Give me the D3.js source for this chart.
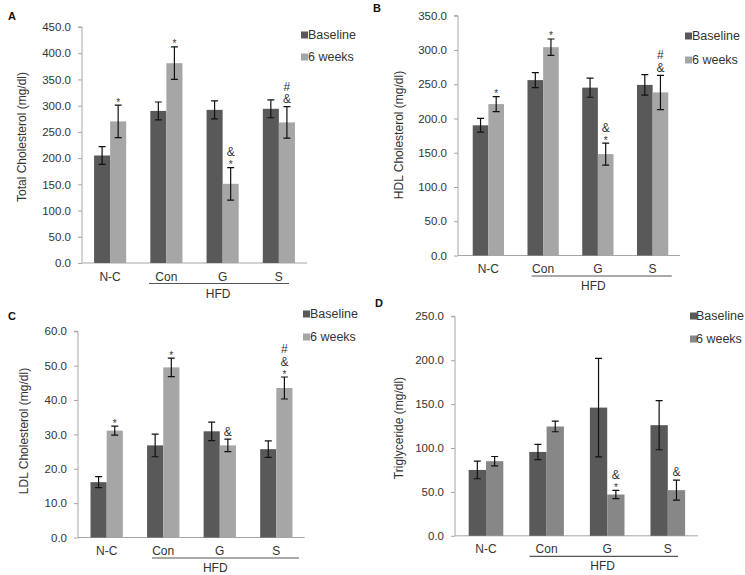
<!DOCTYPE html>
<html><head><meta charset="utf-8">
<script src="https://cdn.jsdelivr.net/npm/d3@7"></script>
<style>body{margin:0;background:#fff}svg{display:block;font-family:"Liberation Sans",Arial,sans-serif}</style>
</head><body><svg id="c" width="745" height="575"></svg>
<script>
const categories = ["N-C","Con","G","S"];
const seriesNames = ["Baseline","6 weeks"];

const tcBaseline = [205,290,292,294];
const tcBaselineErr = [17,17,17,17];
const tcWeek6 = [270,381,151,268];
const tcWeek6Err = [31,31,31,30];
const tcMarks = [["*"],["*"],["*","&"],["&","#"]];
const tcTicks = [0,50,100,150,200,250,300,350,400,450];

const hdlBaseline = [190,256,245,249];
const hdlBaselineErr = [10,11,14,15];
const hdlWeek6 = [221,304,148,238];
const hdlWeek6Err = [11,12,16,25];
const hdlMarks = [["*"],["*"],["*","&"],["&","#"]];
const hdlTicks = [0,50,100,150,200,250,300,350];

const ldlBaseline = [16.1,26.8,30.9,25.7];
const ldlBaselineErr = [1.6,3.3,2.7,2.4];
const ldlWeek6 = [31.1,49.5,26.8,43.5];
const ldlWeek6Err = [1.3,2.7,1.8,3.2];
const ldlMarks = [["*"],["*"],["&"],["*","&","#"]];
const ldlTicks = [0,10,20,30,40,50,60];

const tgBaseline = [75,95.5,146,126];
const tgBaselineErr = [10,8.7,56,28];
const tgWeek6 = [85,124.5,47,52];
const tgWeek6Err = [5.3,6,4.7,11.4];
const tgMarks = [[],[],["*","&"],["&"]];
const tgTicks = [0,50,100,150,200,250];

const panels = [
  {letter:"A", title:"Total Cholesterol (mg/dl)", base:tcBaseline, baseErr:tcBaselineErr, w6:tcWeek6, w6Err:tcWeek6Err, marks:tcMarks, ticks:tcTicks,
   axisX:82, xr:[82,307], yr:[263,27], leg:{x:301,t:308,y:[35,57]}, yt:{x:22,y:137}, lt:{x:8,y:20}, hfd:[0.19,0.68], c6:"#a6a6a6"},
  {letter:"B", title:"HDL Cholesterol (mg/dl)", base:hdlBaseline, baseErr:hdlBaselineErr, w6:hdlWeek6, w6Err:hdlWeek6Err, marks:hdlMarks, ticks:hdlTicks,
   axisX:458, xr:[461,680], yr:[255.5,15.7], leg:{x:685,t:692,y:[36,60]}, yt:{x:399,y:135}, lt:{x:373,y:12}, hfd:[0.29,0.85], c6:"#a6a6a6"},
  {letter:"C", title:"LDL Cholesterol (mg/dl)", base:ldlBaseline, baseErr:ldlBaselineErr, w6:ldlWeek6, w6Err:ldlWeek6Err, marks:ldlMarks, ticks:ldlTicks,
   axisX:78, xr:[78.4,304.6], yr:[537.5,331.3], leg:{x:303,t:310,y:[314,337]}, yt:{x:24,y:431}, lt:{x:8,y:320}, hfd:[0.3,0.9], c6:"#a6a6a6"},
  {letter:"D", title:"Triglyceride (mg/dl)", base:tgBaseline, baseErr:tgBaselineErr, w6:tgWeek6, w6Err:tgWeek6Err, marks:tgMarks, ticks:tgTicks,
   axisX:455, xr:[455.7,698.1], yr:[535.8,316.3], leg:{x:690,t:696,y:[316,339]}, yt:{x:399,y:428}, lt:{x:375,y:307}, hfd:[0.22,0.67], c6:"#878787"}
];

const svg = d3.select("#c");
const cBase = "#595959";
const axisCol = "#a6a6a6";
const txt = "#333";

panels.forEach(p => {
  const g = svg.append("g");
  const x = d3.scaleBand().domain(categories).range(p.xr);
  const y = d3.scaleLinear().domain([p.ticks[0], p.ticks[p.ticks.length-1]]).range(p.yr);
  const bw = x.bandwidth()/3.5;
  const cx = c => x(c) + x.bandwidth()/2;

  // y axis
  const ya = g.append("g").attr("transform",`translate(${p.axisX},0)`)
    .call(d3.axisLeft(y).tickValues(p.ticks).tickFormat(d3.format(".1f")).tickSize(4).tickPadding(7));
  ya.select(".domain").attr("stroke",axisCol).attr("d",`M-4,${y(p.ticks[p.ticks.length-1])}H0V${y(0)}`);
  ya.selectAll(".tick line").attr("stroke",axisCol);
  ya.selectAll(".tick text").attr("fill",txt).style("font-size","11.5px").style("font-family","Liberation Sans, Arial, sans-serif");

  // x axis line
  g.append("line").attr("x1",p.axisX).attr("x2",p.xr[1]).attr("y1",y(0)).attr("y2",y(0)).attr("stroke",axisCol);

  // bars
  const series = [
    {vals:p.base, err:p.baseErr, col:cBase, off:-1},
    {vals:p.w6, err:p.w6Err, col:p.c6, off:0}
  ];
  series.forEach((s,si) => {
    g.selectAll(null).data(categories).enter().append("rect")
      .attr("x",c=>cx(c)+s.off*bw).attr("width",bw)
      .attr("y",(c,i)=>y(s.vals[i])).attr("height",(c,i)=>y(0)-y(s.vals[i]))
      .attr("fill",s.col);
    categories.forEach((c,i)=>{
      const xm = cx(c)+s.off*bw+bw/2;
      const hi = y(s.vals[i]+s.err[i]), lo = y(s.vals[i]-s.err[i]);
      g.append("path").attr("d",`M${xm},${hi}V${lo}M${xm-3.5},${hi}H${xm+3.5}M${xm-3.5},${lo}H${xm+3.5}`)
        .attr("stroke","#111").attr("stroke-width",1.2).attr("fill","none");
      if (si===1) {
        let center = null, prev = null;
        p.marks[i].forEach((m,k)=>{
          if (k===0) center = hi - (m==="*" ? 5 : 8);
          else center = center - (prev==="*" ? 10.5 : 12.5);
          const isStar = m==="*";
          g.append("text").attr("x",xm).attr("y",center + (isStar?5.5:4.3))
            .attr("text-anchor","middle").attr("fill",txt)
            .style("font-size", isStar? "10px":"12px").text(m);
          prev = m;
        });
      }
    });
  });

  // category labels
  const base0 = y(0);
  categories.forEach(c=>{
    g.append("text").attr("x",cx(c)).attr("y",base0+17.5).attr("text-anchor","middle")
      .attr("fill",txt).style("font-size","12px").text(c);
  });
  // HFD bracket
  const hx1 = x("Con") + p.hfd[0]*x.bandwidth();
  const hx2 = x("S") + p.hfd[1]*x.bandwidth();
  g.append("line").attr("x1",hx1).attr("x2",hx2).attr("y1",base0+20.5).attr("y2",base0+20.5).attr("stroke","#555").attr("stroke-width",1.2);
  g.append("text").attr("x",cx("G") - 4.5).attr("y",base0+34.5)
    .attr("text-anchor","middle").attr("fill",txt).style("font-size","12px").text("HFD");

  // y title
  g.append("text").attr("transform",`translate(${p.yt.x},${p.yt.y}) rotate(-90)`)
    .attr("text-anchor","middle").attr("dominant-baseline","central").attr("fill",txt).style("font-size","12px").text(p.title);

  // panel letter
  g.append("text").attr("x",p.lt.x).attr("y",p.lt.y).attr("fill","#111").style("font-size","11px").style("font-weight","bold").text(p.letter);

  // legend
  [cBase,p.c6].forEach((col,k)=>{
    g.append("rect").attr("x",p.leg.x).attr("y",p.leg.y[k]-3.5).attr("width",7).attr("height",7).attr("fill",col);
    g.append("text").attr("x",p.leg.t).attr("y",p.leg.y[k]).attr("dominant-baseline","central")
      .attr("fill",txt).style("font-size","12.5px").text(seriesNames[k]);
  });
});
</script></body></html>
